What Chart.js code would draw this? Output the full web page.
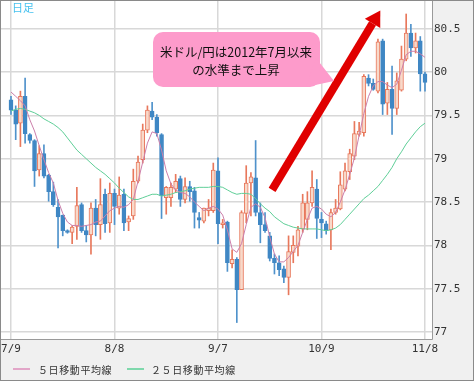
<!DOCTYPE html>
<html lang="ja">
<head>
<meta charset="UTF-8">
<title>米ドル/円 日足</title>
<script src="https://cdn.jsdelivr.net/npm/chart.js@4"></script>
<style>
    html, body { margin: 0; padding: 0; background: #f0f0f0; }
    #wrap { position: relative; width: 474px; height: 381px; }
    #legend span { position: absolute; }
    .swatch { height: 2px; width: 17px; top: 368px; }
    .lbl { top: 362px; font: 10px "Noto Sans CJK JP", sans-serif; letter-spacing: 0.6px; color: #333; }
</style>
</head>
<body>
<div id="wrap">
    <canvas id="chart" width="474" height="381"></canvas>
    <div id="legend">
        <span class="swatch" style="left:13px;background:#e2a6c8"></span>
        <span class="lbl" style="left:38px">５日移動平均線</span>
        <span class="swatch" style="left:127px;background:#7fd8ac"></span>
        <span class="lbl" style="left:151px">２５日移動平均線</span>
    </div>
</div>

<script>
    // daily USD/JPY candles, 7/9 .. 11/8 (weekdays)
    const opens  = [79.68,79.56,79.41,79.72,79.28,79.21,78.87,79.06,78.81,78.62,78.44,78.35,78.17,78.15,78.22,78.47,78.17,78.12,78.43,78.24,
                    78.59,78.26,78.60,78.43,78.59,78.27,78.34,78.74,78.99,79.33,79.55,79.48,79.28,78.55,78.55,78.65,78.77,78.53,78.68,78.63,
                    78.32,78.28,78.40,78.40,78.86,78.24,78.27,77.79,77.84,77.49,78.37,78.72,78.78,78.38,78.24,78.11,77.85,77.80,77.73,77.63,
                    77.92,77.99,78.19,78.30,78.49,78.65,78.30,78.25,78.18,78.38,78.42,78.65,78.85,79.03,79.28,79.30,79.93,79.87,79.78,80.36,
                    79.64,79.80,79.58,79.79,80.15,80.45,80.28,80.36,79.98];
    const highs  = [79.72,79.61,79.78,79.93,79.29,79.22,79.15,79.16,78.82,78.73,78.53,78.35,78.18,78.23,78.67,78.49,78.23,78.49,78.53,78.77,
                    78.65,78.72,78.65,78.79,78.65,78.34,78.88,79.03,79.40,79.61,79.65,79.51,79.29,78.68,78.72,78.82,78.80,78.78,78.74,78.67,
                    78.38,78.43,78.53,78.95,79.01,78.30,78.28,77.95,77.86,78.40,78.92,78.84,79.21,78.49,78.38,78.15,77.90,77.88,77.76,78.11,
                    78.11,78.22,78.59,78.62,78.86,78.76,78.38,78.28,78.42,78.53,78.85,78.95,79.11,79.43,79.42,79.97,79.97,79.92,80.38,80.38,
                    79.88,80.07,79.99,80.30,80.67,80.55,80.45,80.41,80.00];
    const lows   = [79.51,79.22,79.14,79.18,79.18,78.68,78.80,78.78,78.51,78.45,77.97,78.11,78.14,78.02,78.07,78.15,78.04,77.90,78.11,78.07,
                    78.15,78.15,78.24,78.36,78.17,78.17,78.30,78.72,78.95,79.30,79.45,79.26,78.31,78.36,78.45,78.61,78.45,78.49,78.51,78.20,
                    78.20,78.26,78.34,78.38,78.02,78.20,77.70,77.74,77.11,77.49,78.26,78.34,78.34,78.03,78.15,77.82,77.67,77.65,77.57,77.43,
                    77.80,77.88,78.15,78.18,78.45,78.08,78.09,78.13,77.95,78.36,78.41,78.63,78.76,78.99,79.26,79.26,79.84,79.79,79.76,79.51,
                    79.51,79.28,79.51,79.78,80.13,80.18,80.22,79.78,79.78];
    const closes = [79.56,79.40,79.72,79.29,79.21,78.86,79.06,78.80,78.62,78.47,78.33,78.17,78.15,78.21,78.46,78.17,78.12,78.43,78.24,78.47,
                    78.25,78.60,78.45,78.58,78.26,78.31,78.74,78.96,79.33,79.56,79.48,79.30,78.57,78.67,78.67,78.74,78.53,78.68,78.62,78.38,
                    78.29,78.43,78.43,78.87,78.25,78.26,77.80,77.84,77.49,78.38,78.72,78.79,78.38,78.24,78.17,77.85,77.80,77.72,77.63,77.93,
                    78.00,78.18,78.49,78.49,78.67,78.31,78.26,78.17,78.38,78.43,78.70,78.86,79.06,79.29,79.32,79.95,79.87,79.80,80.35,79.63,
                    79.80,79.58,79.90,80.15,80.45,80.28,80.36,79.98,79.88];

    const ma5  = [79.77,79.72,79.67,79.61,79.45,79.32,79.15,78.99,78.84,78.72,78.52,78.37,78.27,78.23,78.23,78.22,78.23,78.24,78.27,78.28,
                  78.34,78.40,78.43,78.45,78.44,78.47,78.53,78.74,78.96,79.18,79.31,79.29,79.10,78.86,78.71,78.64,78.61,78.60,78.56,78.50,
                  78.45,78.40,78.43,78.45,78.42,78.35,78.18,77.96,77.92,78.02,78.24,78.44,78.48,78.44,78.32,78.10,77.90,77.81,77.81,77.86,
                  77.93,78.00,78.15,78.30,78.43,78.45,78.42,78.36,78.33,78.38,78.50,78.64,78.82,79.01,79.27,79.52,79.72,79.84,79.89,79.89,
                  79.85,79.82,79.86,80.02,80.20,80.24,80.24,80.21,80.17];
    const ma25 = [79.55,79.57,79.58,79.57,79.55,79.53,79.50,79.46,79.43,79.40,79.36,79.31,79.24,79.17,79.10,79.05,79.00,78.95,78.90,78.86,
                  78.82,78.77,78.72,78.66,78.61,78.56,78.53,78.53,78.55,78.57,78.59,78.59,78.57,78.58,78.59,78.61,78.62,78.63,78.65,78.66,
                  78.67,78.67,78.67,78.68,78.68,78.67,78.64,78.61,78.59,78.60,78.60,78.59,78.54,78.48,78.43,78.39,78.33,78.29,78.25,78.23,
                  78.21,78.20,78.19,78.19,78.19,78.19,78.18,78.17,78.18,78.20,78.24,78.30,78.36,78.42,78.48,78.54,78.58,78.63,78.68,78.75,
                  78.82,78.90,79.00,79.08,79.17,79.24,79.31,79.37,79.41];

    const xTickIdx    = [0, 22, 44, 66, 88];
    const xTickLabels = ['7/9', '8/8', '9/7', '10/9', '11/8'];
    const yTicks      = [77, 77.5, 78, 78.5, 79, 79.5, 80, 80.5];

    // annotation: arrow in data coords (index, price)
    const arrowFrom = [55.5, 78.64];
    const arrowTo   = [78.5, 80.71];
    const noteLines = ['米ドル/円は2012年7月以来', 'の水準まで上昇'];

    const UP_FILL = '#f8d9ca', UP_LINE = '#e8785c';
    const DN_FILL = '#3f87c4', DN_LINE = '#4f92cb';

    const isUp = closes.map((c, i) => c >= opens[i]);
    const bodies = opens.map((o, i) => ({ x: i, y: [o, closes[i]] }));
    const wicks  = lows.map((l, i) => ({ x: i, y: [l, highs[i]] }));

    const framePlugin = {
        id: 'frame',
        beforeDraw(chart) {
            const { ctx, chartArea: a } = chart;
            ctx.save();
            ctx.fillStyle = '#f0f0f0';
            ctx.fillRect(0, 0, chart.width, chart.height);
            ctx.fillStyle = '#ffffff';
            ctx.fillRect(a.left, a.top, a.right - a.left, a.bottom - a.top);
            ctx.restore();
        },
        afterDraw(chart) {
            const ctx = chart.ctx;
            ctx.save();
            ctx.strokeStyle = '#8a8a8a';
            ctx.lineWidth = 1;
            ctx.strokeRect(0.5, 0.5, chart.width - 1, chart.height - 1);
            ctx.restore();
        }
    };

    const notesPlugin = {
        id: 'notes',
        afterDatasetsDraw(chart) {
            const { ctx, scales: { x, y } } = chart;
            ctx.save();

            // 日足 label
            ctx.fillStyle = '#45c1ef';
            ctx.font = '11px "Noto Sans CJK JP"';
            ctx.textBaseline = 'top';
            ctx.fillText('日足', 12, 2);

            // red arrow
            const x0 = x.getPixelForValue(arrowFrom[0]), y0 = y.getPixelForValue(arrowFrom[1]);
            const x1 = x.getPixelForValue(arrowTo[0]),   y1 = y.getPixelForValue(arrowTo[1]);
            const ang = Math.atan2(y1 - y0, x1 - x0);
            const headLen = 15, headHalf = 9;
            const bx = x1 - headLen * Math.cos(ang), by = y1 - headLen * Math.sin(ang);
            ctx.strokeStyle = '#e00000';
            ctx.fillStyle = '#e00000';
            ctx.lineWidth = 8;
            ctx.beginPath();
            ctx.moveTo(x0, y0);
            ctx.lineTo(bx, by);
            ctx.stroke();
            ctx.beginPath();
            ctx.moveTo(x1, y1);
            ctx.lineTo(bx + headHalf * Math.sin(ang), by - headHalf * Math.cos(ang));
            ctx.lineTo(bx - headHalf * Math.sin(ang), by + headHalf * Math.cos(ang));
            ctx.closePath();
            ctx.fill();

            // pink callout
            ctx.fillStyle = '#fd9bcb';
            ctx.beginPath();
            ctx.roundRect(153, 32, 167, 55, 10);
            ctx.fill();
            ctx.beginPath();
            ctx.moveTo(316, 58);
            ctx.lineTo(334, 81);
            ctx.lineTo(306, 87);
            ctx.closePath();
            ctx.fill();

            ctx.fillStyle = '#111';
            ctx.font = '12.5px "Noto Sans CJK JP"';
            ctx.textAlign = 'center';
            ctx.textBaseline = 'middle';
            ctx.fillText(noteLines[0], 236, 52);
            ctx.fillText(noteLines[1], 236, 70);
            ctx.restore();
        }
    };

    const tickFont = { family: '"DejaVu Sans Mono", monospace', size: 11 };

    new Chart(document.getElementById('chart'), {
        type: 'bar',
        data: {
            datasets: [
                {
                    type: 'line', label: '５日移動平均線', order: 0,
                    data: ma5.map((v, i) => ({ x: i, y: v })),
                    borderColor: '#cc7fab', borderWidth: 1, pointRadius: 0, tension: 0
                },
                {
                    type: 'line', label: '２５日移動平均線', order: 0,
                    data: ma25.map((v, i) => ({ x: i, y: v })),
                    borderColor: '#5fcf98', borderWidth: 1, pointRadius: 0, tension: 0
                },
                {
                    label: 'body', order: 1, grouped: false,
                    data: bodies,
                    backgroundColor: isUp.map(u => u ? UP_FILL : DN_FILL),
                    borderColor: isUp.map(u => u ? UP_LINE : DN_FILL),
                    borderWidth: 1, borderSkipped: false,
                    barThickness: 4, minBarLength: 1
                },
                {
                    label: 'wick', order: 2, grouped: false,
                    data: wicks,
                    backgroundColor: isUp.map(u => u ? UP_LINE : DN_LINE),
                    borderWidth: 0, barThickness: 1
                }
            ]
        },
        options: {
            responsive: false,
            animation: false,
            layout: { padding: { left: 1, top: 1, right: 1, bottom: 22 } },
            plugins: { legend: { display: false }, tooltip: { enabled: false } },
            scales: {
                x: {
                    type: 'linear', min: -2.125, max: 89.49, offset: false,
                    afterBuildTicks: axis => { axis.ticks = xTickIdx.map(v => ({ value: v })); },
                    afterFit: axis => { axis.height = 20; axis.paddingLeft = 0; axis.paddingRight = 0; },
                    ticks: {
                        callback: v => xTickLabels[xTickIdx.indexOf(v)],
                        autoSkip: false, maxRotation: 0, padding: 4,
                        font: tickFont, color: '#333'
                    },
                    grid: { color: '#d8d8d8', lineWidth: 1.5, drawTicks: false, offset: false },
                    border: { color: '#9a9a9a' }
                },
                y: {
                    position: 'right', min: 76.92, max: 80.82,
                    afterBuildTicks: axis => { axis.ticks = yTicks.map(v => ({ value: v })); },
                    afterFit: axis => { axis.width = 41; axis.paddingTop = 0; axis.paddingBottom = 0; },
                    ticks: { padding: 2, font: tickFont, color: '#333', callback: v => String(v) },
                    grid: { color: '#d8d8d8', lineWidth: 1.5, drawTicks: false },
                    border: { color: '#9a9a9a' }
                }
            }
        },
        plugins: [framePlugin, notesPlugin]
    });
</script>
</body>
</html>
